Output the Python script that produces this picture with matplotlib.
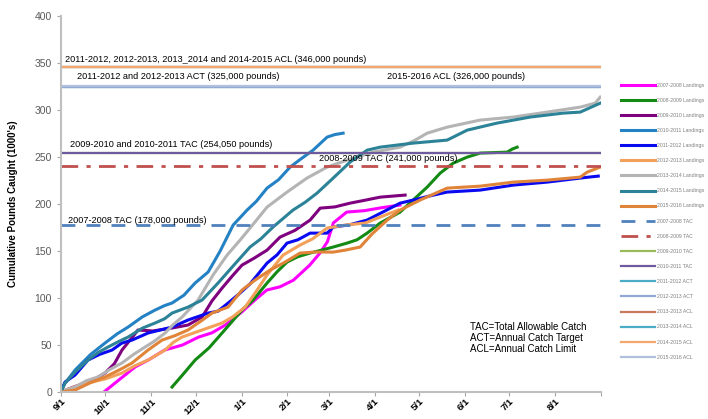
import numpy as np
import matplotlib
matplotlib.use("Agg")
import matplotlib.pyplot as plt

plt.rcParams['font.family'] = ['Liberation Sans', 'DejaVu Sans']

# month ticks (days from 9/1)
mesyaci_dni = [0, 30, 61, 91, 122, 153, 181, 212, 242, 273, 303, 334]
mesyaci = ["9/1", "10/1", "11/1", "12/1", "1/1", "2/1", "3/1", "4/1", "5/1", "6/1", "7/1", "8/1"]

# landings, cumulative (1000's of pounds) by day of season
d0708 = [29, 40, 50, 60, 70, 82, 93, 102, 111, 122, 131, 139, 148, 157, 168, 175, 180, 184, 193, 205, 216, 229]
v0708 = [0, 14, 26.6, 35, 44.7, 50, 58.5, 63, 71.3, 85, 97.9, 108.5, 112, 119, 135, 148, 160, 180, 191.5, 193, 196, 199]

d0809 = [75, 82, 90.6, 100, 108.8, 115, 122.3, 129.8, 139.2, 146, 152.7, 160, 168.3, 176, 183.9, 193.3, 200,
         206.8, 215.6, 229.1, 237.9, 247.4, 256.2, 265, 274.4, 283.2, 301.5, 304.8, 308.2]
v0809 = [5.3, 18, 34, 47, 62.8, 74, 87.2, 97.9, 116, 128, 138.3, 144, 147.9, 151, 154.3, 158.5, 162,
         169.1, 179.8, 191.5, 204.3, 218.1, 233, 243.6, 250, 254.3, 255.3, 258.5, 260.6]

d0910 = [0, 8, 16.2, 23, 29.7, 36, 41.2, 47, 52, 62, 75, 85.8, 95.3, 102, 108.8, 116, 122.3, 130, 139.2,
         148, 158, 168.3, 175.1, 185, 195.3, 205, 215.6, 232.5]
v0910 = [0, 5, 9.6, 14, 20.2, 30, 44.7, 56, 66, 65, 68.1, 71.3, 79.8, 97, 110.6, 124, 135.1, 142, 151,
         164.9, 172, 183, 195.7, 197, 201, 204, 207.4, 209.6]

d1011 = [0, 0.7, 5, 9.5, 20, 29.7, 38, 45.3, 55, 63.5, 70, 75, 83, 90.6, 99.4, 107.5, 116.3, 125.7, 132,
         139.2, 147, 154.8, 162, 170.3, 179.8, 185, 190.6]
v1011 = [0, 5.3, 14, 23.4, 40, 52.1, 62, 69.1, 80, 87.2, 92, 94.7, 103, 116, 127.7, 150, 177.7, 193.6, 203,
         217, 226, 239.4, 248, 257.4, 271.3, 274, 275.5]

d1112 = [0, 2.7, 9.5, 18.2, 26, 34.5, 41, 48, 58.8, 67, 75, 85.8, 99.4, 106, 112.9, 120, 127.7, 139.2, 146,
         152.7, 160, 168.3, 179.8, 183.9, 195, 206.8, 218, 229.1, 237.9, 250, 260.9, 283.2, 305.5, 328.5,
         350.8, 363]
v1112 = [0, 10.6, 18.1, 34, 40, 44.7, 52, 55.3, 62.8, 66, 69.1, 76.6, 84, 86, 94.7, 104, 115, 137.2, 146,
         158.5, 162, 169.1, 169.1, 175.5, 178, 183, 192, 201, 204.3, 209, 212.8, 214.9, 220.2, 223.4,
         227.7, 229.8]

d1213 = [0, 10, 18.2, 30, 41.2, 50, 58.8, 70.3, 76, 81.8, 95.3, 108.8, 116, 124.4, 131.1, 139.2, 150,
         161.5, 170, 179.8, 192, 205.5, 219, 227.8]
v1213 = [0, 6, 9.6, 14, 20.2, 28, 34, 44.7, 53, 58.5, 66, 73.4, 80, 90.4, 105.3, 124.5, 145.7, 156.4,
         163, 174.5, 177.7, 179.8, 188.3, 193.6]

d1314 = [0, 9.5, 17, 25, 33, 41.2, 49, 56.8, 63, 70.3, 76, 81.8, 92.6, 102.7, 112.2, 121, 127.7, 139.2,
         152.7, 166.2, 179.8, 193.3, 210.9, 229.1, 239.3, 247.4, 260.9, 283.2, 305.5, 328.5, 350.8, 360.9,
         364.3]
v1314 = [0, 5.3, 12, 16, 24, 30.9, 40, 47.9, 54, 62.8, 72, 79.8, 97.9, 124.5, 145.7, 161.7, 174.5, 196.8,
         212.8, 227.7, 239.4, 246.8, 255.3, 260.6, 268.1, 275.5, 281.9, 289.4, 292.6, 297.9, 303.2, 307.4,
         313.8]

d1415 = [0, 2.7, 10, 18.2, 25, 31.8, 38, 45.3, 55, 63.5, 70, 75, 85.8, 95.3, 106.1, 118, 127.7, 135, 143.2,
         156.7, 165, 173, 183.9, 195.3, 206.8, 215.6, 237.9, 260.9, 274.4, 294.6, 316.9, 339.2, 350.8, 364.3]
v1415 = [0, 9.6, 22, 34, 42, 47.9, 53, 58.5, 68, 73.4, 78, 84, 90.4, 97.9, 116, 137.2, 154.3, 163, 175.5,
         193.6, 202, 211.7, 227.7, 244.7, 257.4, 260.6, 264.9, 268.1, 278.7, 286.2, 292.6, 296.8, 297.9, 307.4]

d1516 = [0, 9.5, 20, 29.7, 40, 48, 58.8, 68.3, 77, 85.8, 95, 102, 112.9, 122.3, 131.1, 141.3, 151.4, 161.5,
         172, 183.9, 192, 202.1, 210, 220.4, 229.1, 242.6, 260.9, 283.2, 305.5, 328.5, 350.8, 355.5, 364.3]
v1516 = [0, 2.1, 10, 16, 24, 30.9, 44.7, 55.3, 60, 66, 76, 84, 90.4, 108.5, 119.1, 129.8, 138.3, 147.9,
         149, 148.9, 151, 154.3, 168, 183, 193.6, 204.3, 217, 219.1, 223.4, 225.5, 228.7, 234, 239.4]

# limits (1000's of pounds)
tac0708 = 178
tac0809 = 241
tac0910 = 254.05
tac1011 = 254.05
act1112 = 325
act1213 = 325
acl1213 = 346
acl1314 = 346
acl1415 = 346
acl1516 = 326

fig = plt.figure(figsize=(7.08, 4.19), dpi=100)
ax = fig.add_axes([0.0862, 0.0644, 0.763, 0.897])

lw = 2.2
ax.plot(d0708, v0708, color="#FF00FF", lw=lw, label="2007-2008 Landings")
ax.plot(d0809, v0809, color="#138A13", lw=lw, label="2008-2009 Landings")
ax.plot(d0910, v0910, color="#7F007F", lw=lw, label="2009-2010 Landings")
ax.plot(d1011, v1011, color="#2381C4", lw=lw, label="2010-2011 Landings")
ax.plot(d1112, v1112, color="#0A0AF0", lw=lw, label="2011-2012 Landings")
ax.plot(d1213, v1213, color="#F2A05A", lw=lw, label="2012-2013 Landings")
ax.plot(d1314, v1314, color="#B4B4B4", lw=lw, label="2013-2014 Landings")
ax.plot(d1415, v1415, color="#2C8297", lw=lw, label="2014-2015 Landings")
ax.plot(d1516, v1516, color="#E0843A", lw=lw, label="2015-2016 Landings")

xx = [0, 365]
ax.plot(xx, [tac0708] * 2, color="#4F81BD", lw=2, ls=(0, (5, 4)), label="2007-2008 TAC")
ax.plot(xx, [tac0809] * 2, color="#C0504D", lw=2, ls=(0, (6, 3, 1.5, 3)), label="2008-2009 TAC")
ax.plot(xx, [tac0910] * 2, color="#9BBB59", lw=1.6, label="2009-2010 TAC")
ax.plot(xx, [tac1011] * 2, color="#6E5A9E", lw=1.6, label="2010-2011 TAC")
ax.plot(xx, [act1112] * 2, color="#4BACC6", lw=1.6, label="2011-2012 ACT")
ax.plot(xx, [act1213] * 2, color="#8FA8D6", lw=1.6, label="2012-2013 ACT")
ax.plot(xx, [acl1213] * 2, color="#C8795A", lw=1.6, label="2013-2013 ACL")
ax.plot(xx, [acl1314] * 2, color="#4BACC6", lw=1.6, label="2013-2014 ACL")
ax.plot(xx, [acl1415] * 2, color="#F5A66A", lw=1.6, label="2014-2015 ACL")
ax.plot(xx, [acl1516] * 2, color="#AFBFDC", lw=1.6, label="2015-2016 ACL")

fs = 6.6
ax.text(3, 349, "2011-2012, 2012-2013, 2013_2014 and 2014-2015 ACL (346,000 pounds)", fontsize=fs, va="bottom")
ax.text(11, 336, "2011-2012 and 2012-2013 ACT (325,000 pounds)", fontsize=fs, va="center")
ax.text(220, 336, "2015-2016 ACL (326,000 pounds)", fontsize=fs, va="center")
ax.text(6, 263, "2009-2010 and 2010-2011 TAC (254,050 pounds)", fontsize=fs, va="center")
ax.text(174, 249, "2008-2009 TAC (241,000 pounds)", fontsize=fs, va="center")
ax.text(5, 183, "2007-2008 TAC (178,000 pounds)", fontsize=fs, va="center")
ax.text(276, 75, "TAC=Total Allowable Catch\nACT=Annual Catch Target\nACL=Annual Catch Limit",
        fontsize=7, va="top", linespacing=1.15)

ax.set_xlim(0, 365)
ax.set_ylim(0, 400)
ax.set_xticks(mesyaci_dni + [365])
ax.set_xticklabels(mesyaci + [""], rotation=45, ha="right", rotation_mode="anchor",
                   fontsize=6.8, fontweight="bold")
ax.set_yticks(range(0, 401, 50))
ax.tick_params(axis="y", labelsize=7.5, labelcolor="#595959", color="#A6A6A6", length=3)
ax.tick_params(axis="x", color="#A6A6A6", length=3, pad=0.5)
for s in ["top", "right"]:
    ax.spines[s].set_visible(False)
for s in ["left", "bottom"]:
    ax.spines[s].set_color("#BFBFBF")
    ax.spines[s].set_linewidth(1.5)
ax.set_ylabel("Cumulative Pounds Caught (1000's)", fontsize=7, fontweight="bold", labelpad=12)

leg = ax.legend(loc="upper left", bbox_to_anchor=(0.874, 0.808), bbox_transform=fig.transFigure,
                frameon=False, fontsize=3.7, handlelength=6.6, handletextpad=0.5,
                labelspacing=1.97, borderaxespad=0)
for t in leg.get_texts():
    t.set_color("#7F7F7F")

fig.savefig("out.png", dpi=100)
